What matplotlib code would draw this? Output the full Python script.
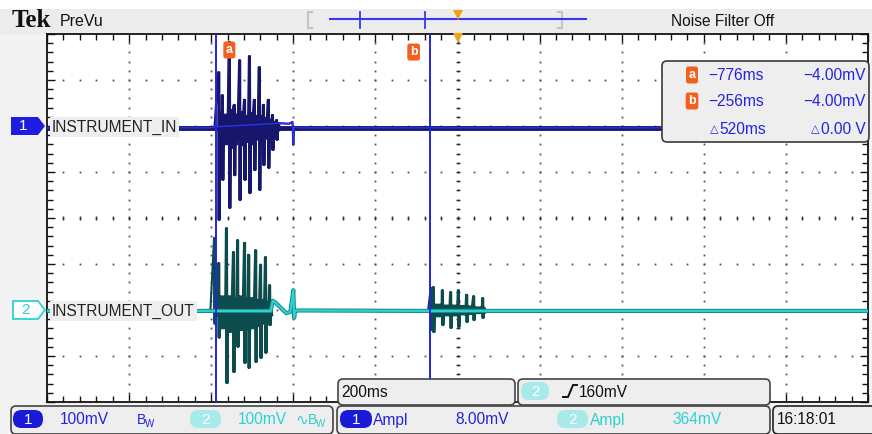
import numpy as np
import matplotlib.pyplot as plt
from matplotlib.patches import FancyBboxPatch, Polygon, Rectangle

plt.rcParams['font.family'] = ['Liberation Sans', 'DejaVu Sans']

# scope settings (time in ms, amplitude in mV)
t_left, t_right = -1188, 812
ms_per_div = 200
mv_per_div = 100
ch1_offset = 200   # +2 div
ch2_offset = -200  # -2 div
ch1_base = -4
ch2_base = -2

cursor_t = [-776, -256]
cursor_v = [-4.00, -4.00]
cursor_names = ['a', 'b']

# ch1 (INSTRUMENT_IN) burst, read spike by spike
ch1_spike_t = [-771, -762, -745, -733, -720, -708, -696, -684, -672, -662, -650, -640, -630]
ch1_spike_hi = [117, 67, 183, 46, 143, 57, 152, 57, 128, 46, 57, 24, 13]
ch1_spike_lo = [-204, -117, -178, -107, -161, -117, -146, -96, -139, -85, -91, -52, -30]
ch1_rip_hi = [30, 25, 35, 25, 30, 22, 28, 22, 22, 18, 14, 9, 6]
ch1_rip_lo = [-45, -40, -48, -40, -42, -35, -40, -30, -35, -28, -22, -14, -10]
ch1_pre_t = [t_left, -790, -780]
ch1_pre_v = [-4, -4, -2]
ch1_post_t = [-622, -598, -590, -588, -586, -575, t_right]
ch1_post_v = [6, 5, 9, -41, -2, -4, -4]

# ch2 (INSTRUMENT_OUT) first burst
ch2_spike_t = [-781, -771, -752, -735, -725, -708, -698, -681, -669, -657, -647]
ch2_spike_hi = [157, 102, 178, 126, 152, 146, 120, 130, 98, 115, 54]
ch2_spike_lo = [-30, -60, -159, -135, -80, -115, -126, -113, -104, -93, -33]
ch2_rip_hi = [12, 30, 30, 26, 30, 26, 26, 22, 22, 18, 8]
ch2_rip_lo = [-12, -40, -48, -40, -44, -40, -40, -35, -30, -26, -12]
# ch2 second burst (after cursor b)
ch2_echo_t = [-253, -248, -226, -206, -187, -167, -150, -128]
ch2_echo_hi = [48, 50, 43, 39, 43, 33, 30, 26]
ch2_echo_lo = [-43, -48, -33, -39, -37, -26, -22, -17]
ch2_echo_rip_hi = [12, 12, 10, 10, 9, 8, 6, 5]
ch2_echo_rip_lo = [-14, -14, -12, -12, -10, -9, -7, -6]
ch2_pre_t = [t_left, -790]
ch2_pre_v = [-2, -2]
ch2_mid_t = [-643, -638, -630, -620, -605, -595, -588, -586, -584, -575, -260]
ch2_mid_v = [-2, 20, 15, 6, -7, -4, 43, -17, -2, -1, -2]
ch2_post_t = [-115, t_right]
ch2_post_v = [-2, -2]


def burst(st, hi, lo, rhi, rlo):
    # double stroke for each spike, then ripple between the read levels until the next spike
    t, v = [], []
    nxt = st[1:] + [st[-1] + 10]
    for i in range(len(st)):
        t += [st[i], st[i] + 1.2, st[i] + 2.4, st[i] + 3.6]
        v += [hi[i], lo[i], hi[i], lo[i]]
        for k, tt in enumerate(np.arange(st[i] + 5.5, nxt[i] - 1, 2.2)):
            t.append(tt)
            v.append(rhi[i] if k % 2 == 0 else rlo[i])
    return t, v


b1_t, b1_v = burst(ch1_spike_t, ch1_spike_hi, ch1_spike_lo, ch1_rip_hi, ch1_rip_lo)
ch1_t = ch1_pre_t + b1_t + ch1_post_t
ch1_v = ch1_pre_v + b1_v + ch1_post_v

b2_t, b2_v = burst(ch2_spike_t, ch2_spike_hi, ch2_spike_lo, ch2_rip_hi, ch2_rip_lo)
e2_t, e2_v = burst(ch2_echo_t, ch2_echo_hi, ch2_echo_lo, ch2_echo_rip_hi, ch2_echo_rip_lo)
ch2_t = ch2_pre_t + b2_t + ch2_mid_t + e2_t + ch2_post_t
ch2_v = ch2_pre_v + b2_v + ch2_mid_v + e2_v + ch2_post_v

BLUE = '#2424e0'
CYAN = '#2cd2d2'
ORANGE = '#f2601e'

fig = plt.figure(figsize=(8.72, 4.34), dpi=100)
fig.patch.set_facecolor('#f3f3f3')

# background layer in pixel coords
bg = fig.add_axes([0, 0, 1, 1], zorder=0)
bg.set_xlim(0, 872)
bg.set_ylim(434, 0)
bg.axis('off')
bg.add_patch(Rectangle((0, 0), 872, 9, color='white', lw=0))
bg.add_patch(Rectangle((0, 9), 872, 25, color='#ececec', lw=0))

# graticule
ax = fig.add_axes([47 / 872, 32 / 434, 821 / 872, 368 / 434], zorder=1)
ax.set_facecolor('white')
ax.set_xlim(t_left, t_right)
ax.set_ylim(-4 * mv_per_div, 4 * mv_per_div)
ax.set_xticks(np.arange(t_left, t_right + 1, ms_per_div))
ax.set_xticks(np.arange(t_left, t_right + 1, ms_per_div / 5), minor=True)
ax.set_yticks(np.arange(-400, 401, mv_per_div))
ax.set_yticks(np.arange(-400, 401, mv_per_div / 5), minor=True)
ax.tick_params(which='both', direction='in', top=True, right=True,
               labelbottom=False, labelleft=False, color='#111111', width=1)
ax.tick_params(which='major', length=6)
ax.tick_params(which='minor', length=4)
for s in ax.spines.values():
    s.set_linewidth(1.3)
    s.set_color('#111111')

ys = np.arange(-380, 400, 20)
for gx in np.arange(t_left + ms_per_div, t_right, ms_per_div):
    ax.plot(np.full(len(ys), gx), ys, ls='none', marker='s', ms=1.3, mew=0, color='#555555', zorder=1)
xs = np.arange(t_left + 40, t_right, 40)
for gy in np.arange(-300, 301, mv_per_div):
    ax.plot(xs, np.full(len(xs), gy), ls='none', marker='s', ms=1.3, mew=0, color='#555555', zorder=1)
xc = (t_left + t_right) / 2
ax.plot(np.full(len(ys), xc), ys, ls='none', marker='_', ms=3.5, mew=1, color='#333333', zorder=1)
ax.plot(xs, np.zeros(len(xs)), ls='none', marker='|', ms=3.5, mew=1, color='#333333', zorder=1)

# traces
ch1_y = np.array(ch1_v) + ch1_offset
ax.plot([t_left, t_right], [ch1_base + ch1_offset] * 2, color='#17176e', lw=3.5, zorder=3)
ax.plot(ch1_t, ch1_y, color='#16166c', lw=1.5, zorder=3)
ax.plot(ch1_pre_t + ch1_post_t, np.array(ch1_pre_v + ch1_post_v) + ch1_offset, color='#2f2fee', lw=1.0, zorder=3)

ch2_y = np.array(ch2_v) + ch2_offset
ax.plot(ch2_t, ch2_y, color='#0c4c4c', lw=1.5, zorder=3)
ax.plot(ch2_pre_t + ch2_mid_t + ch2_post_t, np.array(ch2_pre_v + ch2_mid_v + ch2_post_v) + ch2_offset,
        color='#138a8a', lw=3.0, zorder=3)
ax.plot(ch2_pre_t + ch2_mid_t + ch2_post_t, np.array(ch2_pre_v + ch2_mid_v + ch2_post_v) + ch2_offset,
        color=CYAN, lw=1.6, zorder=3)

# cursors
for t, name, dx, dy in zip(cursor_t, cursor_names, [9.5, -11.5], [-11.5, -13]):
    ax.axvline(t, color=BLUE, lw=1.4, zorder=4)
    ax.annotate(name, xy=(t, 400), xytext=(dx, dy), textcoords='offset points',
                ha='center', va='center', color='white', fontsize=9, fontweight='bold',
                bbox=dict(boxstyle='round,pad=0.2', fc=ORANGE, ec='none'), annotation_clip=False, zorder=5)
ax.plot(xc, 392, marker='v', ms=7, color='#f4a21c', mew=0, clip_on=False, zorder=5)

# foreground layer in pixel coords
fg = fig.add_axes([0, 0, 1, 1], zorder=3)
fg.set_xlim(0, 872)
fg.set_ylim(434, 0)
fg.axis('off')


def panel(x, y, w, h, ec='#444444'):
    fg.add_patch(FancyBboxPatch((x, y), w, h, boxstyle='round,pad=0,rounding_size=5',
                                fc='#eeeeee', ec=ec, lw=1.2))


def pill(x, y, w, h, label, fc):
    fg.add_patch(FancyBboxPatch((x, y), w, h, boxstyle='round,pad=0,rounding_size=%f' % (h / 2 - 0.5),
                                fc=fc, ec='none'))
    fg.text(x + w / 2, y + h / 2 + 0.5, label, color='white', ha='center', va='center', fontsize=11)


# top bar
fg.text(12, 27, 'Tek', family='Liberation Serif', fontweight='bold', fontsize=18, color='#111111')
fg.text(60, 26, 'PreVu', fontsize=11.5, color='#111111')
fg.text(671, 26, 'Noise Filter Off', fontsize=11.2, color='#111111')
for bx, d in [(308, 4), (562, -4)]:
    fg.plot([bx + d, bx, bx, bx + d], [12, 12, 28, 28], color='#c4c4c4', lw=1.5)
fg.plot([330, 586], [19, 19], color='#3838ee', lw=1.5)
for rx in [360, 425]:
    fg.plot([rx, rx], [12, 28], color='#3838ee', lw=1.3)
fg.plot(458, 15, marker='v', ms=7.5, color='#f4a21c', mew=0)

# channel markers and labels
px1 = 218 - ch1_offset * 0.46
px2 = 218 - ch2_offset * 0.46
fg.add_patch(Polygon([(11, px1 - 9), (38, px1 - 9), (45, px1), (38, px1 + 9), (11, px1 + 9)],
                     closed=True, fc='#1d1de0', ec='none'))
fg.text(23, px1 + 0.5, '1', color='white', ha='center', va='center', fontsize=11)
fg.add_patch(Polygon([(13, px2 - 9), (38, px2 - 9), (45, px2), (38, px2 + 9), (13, px2 + 9)],
                     closed=True, fc='white', ec=CYAN, lw=1.3))
fg.text(25, px2 + 0.5, '2', color=CYAN, ha='center', va='center', fontsize=11)
fg.text(52, px1 + 1, 'INSTRUMENT_IN', color='#222222', va='center', fontsize=11.2,
        bbox=dict(fc='#eeeeee', ec='none', pad=1.5))
fg.text(52, px2 + 1, 'INSTRUMENT_OUT', color='#222222', va='center', fontsize=11.2,
        bbox=dict(fc='#eeeeee', ec='none', pad=1.5))

# cursor readout
panel(662, 61, 207, 81, ec='#3a3a3a')
rows_y = [75, 101, 128]
for i in range(2):
    fg.text(692, rows_y[i], cursor_names[i], color='white', ha='center', va='center', fontsize=9,
            fontweight='bold', bbox=dict(boxstyle='round,pad=0.2', fc=ORANGE, ec='none'))
    fg.text(708, rows_y[i] + 1, ('%.0fms' % cursor_t[i]).replace('-', '\u2212'), color=BLUE,
            va='center', fontsize=11.2)
    fg.text(866, rows_y[i] + 1, ('%.2fmV' % cursor_v[i]).replace('-', '\u2212'), color=BLUE,
            va='center', ha='right', fontsize=11.2)
fg.text(710, rows_y[2] + 1, '\u25b3', color=BLUE, va='center', fontsize=8, family='DejaVu Sans')
fg.text(719, rows_y[2] + 1, '%.0fms' % (cursor_t[1] - cursor_t[0]), color=BLUE, va='center', fontsize=11.2)
fg.text(811, rows_y[2] + 1, '\u25b3', color=BLUE, va='center', fontsize=8, family='DejaVu Sans')
fg.text(866, rows_y[2] + 1, '%.2f V' % (cursor_v[1] - cursor_v[0]), color=BLUE, va='center', ha='right',
        fontsize=11.2)

# bottom status boxes
panel(338, 379, 177, 26)
fg.text(341, 392.5, '%dms' % ms_per_div, color='#111111', va='center', fontsize=11.2)
panel(518, 379, 252, 26)
pill(521, 382, 28, 18, '2', '#a6eaea')
fg.plot([563, 568, 573, 577], [397, 397, 385, 385], color='#111111', lw=1.4)
fg.text(579, 392.5, '160mV', color='#111111', va='center', fontsize=11.2)

panel(11, 406, 322, 28)
pill(13, 410, 30, 18, '1', '#1a1ad8')
fg.text(60, 420, '%dmV' % mv_per_div, color=BLUE, va='center', fontsize=11.2)
fg.text(137, 420, 'B', color=BLUE, va='center', fontsize=10)
fg.text(145, 424, 'W', color=BLUE, va='center', fontsize=7)
pill(190, 410, 31, 18, '2', '#a6eaea')
fg.text(238, 420, '%dmV' % mv_per_div, color=CYAN, va='center', fontsize=11.2)
fg.text(295, 420, '\u223f', color=CYAN, va='center', fontsize=11, family='DejaVu Sans')
fg.text(308, 420, 'B', color=CYAN, va='center', fontsize=10)
fg.text(316, 424, 'W', color=CYAN, va='center', fontsize=7)

panel(337, 406, 433, 28)
pill(340, 410, 32, 18, '1', '#1a1ad8')
fg.text(373, 420, 'Ampl', color=BLUE, va='center', fontsize=11.2)
fg.text(455, 420, '8.00mV', color=BLUE, va='center', fontsize=11.2)
pill(557, 410, 31, 18, '2', '#a6eaea')
fg.text(590, 420, 'Ampl', color=CYAN, va='center', fontsize=11.2)
fg.text(672, 420, '364mV', color=CYAN, va='center', fontsize=11.2)

panel(773, 406, 110, 28, ec='#222222')
fg.text(777, 420, '16:18:01', color='#111111', va='center', fontsize=11.2)

fig.savefig('out.png', dpi=100, facecolor=fig.get_facecolor())
